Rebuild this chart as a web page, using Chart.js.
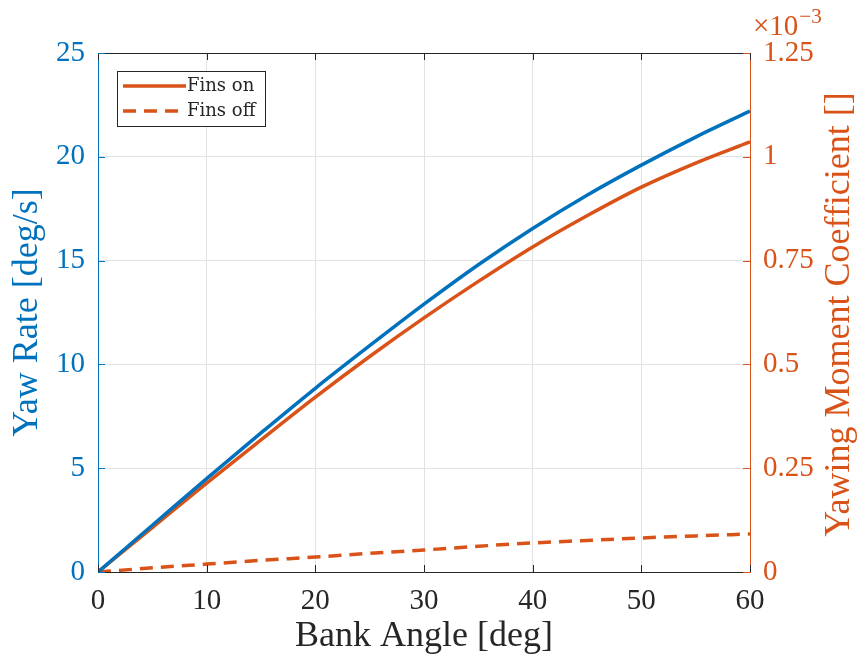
<!DOCTYPE html>
<html lang="en">
<head>
<meta charset="UTF-8" />
<title>Yaw Rate vs Bank Angle</title>
<script src="https://cdn.jsdelivr.net/npm/chart.js"></script>
<style>
    body { margin: 0; background: #fff; }
    .wrap { width: 861px; height: 658px; }
</style>
</head>
<body>
<div class="wrap"><canvas id="yawChart" width="861" height="658"></canvas></div>
<script>
    // bank angle [deg]
    const bankAngle = [0, 5, 10, 15, 20, 25, 30, 35, 40, 45, 50, 55, 60];
    // yaw rate [deg/s] (left axis)
    const yawRate = [0, 2.25, 4.5, 6.7, 8.85, 10.9, 12.9, 14.8, 16.55, 18.15, 19.6, 20.95, 22.2];
    // yawing moment coefficient, in units of 1e-3 (right axis)
    const finsOn = [0, 0.107, 0.214, 0.318, 0.421, 0.519, 0.612, 0.7, 0.783, 0.858, 0.927, 0.985, 1.036];
    const finsOff = [0, 0.01, 0.019, 0.028, 0.036, 0.045, 0.053, 0.062, 0.07, 0.076, 0.082, 0.087, 0.0915];

    const xTicks = [0, 10, 20, 30, 40, 50, 60];
    const leftTicks = [0, 5, 10, 15, 20, 25];
    const rightTicks = [0, 0.25, 0.5, 0.75, 1, 1.25];
    const rightTitle = 'Yawing Moment Coefficient []';

    const BLUE = '#0072BD';
    const ORANGE = '#D95319';
    const FONT = "'Liberation Serif', 'DejaVu Serif', serif";
    const LEG_FONT = "'DejaVu Serif', serif";
    const TICK_SIZE = 29;
    const TITLE_SIZE = 36;

    const toPts = ys => bankAngle.map((x, i) => ({ x: x, y: ys[i] }));

    // MATLAB-ish box, inward ticks, exponent, right label and legend
    const decorPlugin = {
        id: 'decor',
        afterDraw(chart) {
            const ctx = chart.ctx;
            const a = chart.chartArea;
            const sx = chart.scales.x, sl = chart.scales.yL, sr = chart.scales.yR;
            const tl = 7;
            ctx.save();
            ctx.lineWidth = 1;
            // top border
            ctx.strokeStyle = '#262626';
            ctx.beginPath();
            ctx.moveTo(a.left, a.top + 0.5);
            ctx.lineTo(a.right, a.top + 0.5);
            ctx.stroke();
            // x ticks, bottom and top
            ctx.beginPath();
            xTicks.forEach(v => {
                const px = Math.round(sx.getPixelForValue(v)) + 0.5;
                ctx.moveTo(px, a.bottom); ctx.lineTo(px, a.bottom - tl);
                ctx.moveTo(px, a.top); ctx.lineTo(px, a.top + tl);
            });
            ctx.stroke();
            // left ticks
            ctx.strokeStyle = BLUE;
            ctx.beginPath();
            leftTicks.forEach(v => {
                const py = Math.round(sl.getPixelForValue(v)) + 0.5;
                ctx.moveTo(a.left, py); ctx.lineTo(a.left + tl, py);
            });
            ctx.stroke();
            // right ticks
            ctx.strokeStyle = ORANGE;
            ctx.beginPath();
            rightTicks.forEach(v => {
                const py = Math.round(sr.getPixelForValue(v)) + 0.5;
                ctx.moveTo(a.right, py); ctx.lineTo(a.right - tl, py);
            });
            ctx.stroke();

            // exponent label
            ctx.fillStyle = ORANGE;
            ctx.textBaseline = 'alphabetic';
            ctx.textAlign = 'left';
            ctx.font = TICK_SIZE + 'px ' + FONT;
            ctx.fillText('×10', a.right + 3, 35);
            const w = ctx.measureText('×10').width;
            ctx.font = '21px ' + FONT;
            ctx.fillText('−3', a.right + 3 + w + 1, 23);

            // right axis title, reading bottom to top
            ctx.save();
            ctx.translate(840, (a.top + a.bottom) / 2 + 2);
            ctx.rotate(-Math.PI / 2);
            ctx.textAlign = 'center';
            ctx.textBaseline = 'middle';
            ctx.font = TITLE_SIZE + 'px ' + FONT;
            ctx.fillText(rightTitle, 0, 0);
            ctx.restore();

            // legend
            const lx = 117, ly = 71, lw = 148, lh = 55;
            ctx.fillStyle = '#fff';
            ctx.fillRect(lx, ly, lw, lh);
            ctx.strokeStyle = '#262626';
            ctx.lineWidth = 1;
            ctx.strokeRect(lx + 0.5, ly + 0.5, lw, lh);
            const items = [chart.data.datasets[1], chart.data.datasets[2]];
            items.forEach((ds, i) => {
                const y = ly + 15 + i * 25;
                ctx.strokeStyle = ds.borderColor;
                ctx.lineWidth = 3.5;
                ctx.setLineDash(ds.borderDash || []);
                ctx.beginPath();
                ctx.moveTo(lx + 6, y);
                ctx.lineTo(lx + 69, y);
                ctx.stroke();
                ctx.setLineDash([]);
                ctx.fillStyle = '#262626';
                ctx.font = '18px ' + LEG_FONT;
                ctx.textBaseline = 'middle';
                ctx.fillText(ds.label, lx + 70, y);
            });
            ctx.restore();
        }
    };

    new Chart(document.getElementById('yawChart'), {
        type: 'line',
        data: {
            datasets: [
                {
                    label: 'Yaw Rate',
                    data: toPts(yawRate),
                    yAxisID: 'yL',
                    borderColor: BLUE,
                    borderWidth: 3.5
                },
                {
                    label: 'Fins on',
                    data: toPts(finsOn),
                    yAxisID: 'yR',
                    borderColor: ORANGE,
                    borderWidth: 3.5
                },
                {
                    label: 'Fins off',
                    data: toPts(finsOff),
                    yAxisID: 'yR',
                    borderColor: ORANGE,
                    borderWidth: 3.5,
                    borderDash: [13, 8]
                }
            ]
        },
        options: {
            responsive: false,
            animation: false,
            events: [],
            layout: { padding: { top: 53, left: 0, right: 0, bottom: 0 } },
            elements: {
                point: { radius: 0 },
                line: { tension: 0.4, cubicInterpolationMode: 'monotone', fill: false }
            },
            plugins: {
                legend: { display: false },
                title: { display: false },
                tooltip: { enabled: false }
            },
            scales: {
                x: {
                    type: 'linear',
                    min: 0, max: 60,
                    afterFit: s => { s.height = 86; },
                    afterBuildTicks: s => { s.ticks = xTicks.map(v => ({ value: v })); },
                    grid: { color: '#e2e2e2', drawTicks: false },
                    border: { color: '#262626', width: 1 },
                    ticks: { color: '#262626', padding: 12, font: { family: FONT, size: TICK_SIZE } },
                    title: {
                        display: true, text: 'Bank Angle [deg]', color: '#262626',
                        font: { family: FONT, size: TITLE_SIZE }, padding: { top: 0, bottom: 0 }
                    }
                },
                yL: {
                    type: 'linear',
                    position: 'left',
                    min: 0, max: 25,
                    afterFit: s => { s.width = 98; },
                    afterBuildTicks: s => { s.ticks = leftTicks.map(v => ({ value: v })); },
                    grid: { color: '#e2e2e2', drawTicks: false },
                    border: { color: BLUE, width: 1 },
                    ticks: { color: BLUE, padding: 13, font: { family: FONT, size: TICK_SIZE } },
                    title: {
                        display: true, text: 'Yaw Rate [deg/s]', color: BLUE,
                        font: { family: FONT, size: TITLE_SIZE }, padding: { top: 6, bottom: 0 }
                    }
                },
                yR: {
                    type: 'linear',
                    position: 'right',
                    min: 0, max: 1.25,
                    afterFit: s => { s.width = 111; },
                    afterBuildTicks: s => { s.ticks = rightTicks.map(v => ({ value: v })); },
                    grid: { display: false, drawTicks: false },
                    border: { color: ORANGE, width: 1 },
                    ticks: {
                        color: ORANGE, padding: 13, font: { family: FONT, size: TICK_SIZE },
                        callback: v => String(v)
                    },
                    title: { display: false }
                }
            }
        },
        plugins: [decorPlugin]
    });
</script>
</body>
</html>
